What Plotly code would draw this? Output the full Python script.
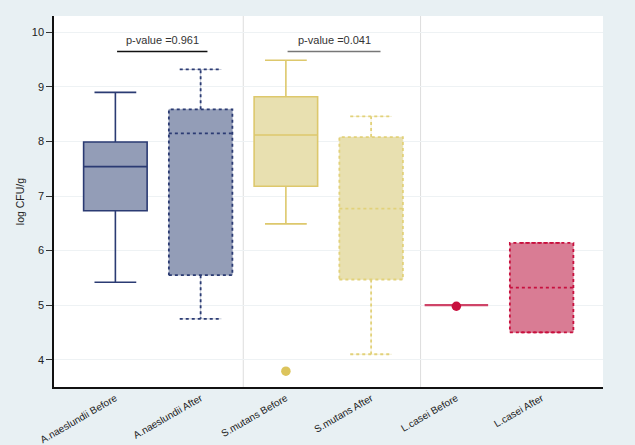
import plotly.graph_objects as go

categories = ["A.naeslundii Before", "A.naeslundii After", "S.mutans Before",
              "S.mutans After", "L.casei Before", "L.casei After"]
lower = [5.42, 4.75, 6.49, 4.10, 5.00, 4.50]
q1 = [6.73, 5.55, 7.18, 5.47, 5.00, 4.50]
median = [7.54, 8.15, 8.12, 6.77, 5.00, 5.32]
q3 = [7.99, 8.59, 8.82, 8.08, 5.00, 6.14]
upper = [8.90, 9.32, 9.49, 8.46, 5.00, 6.14]
dotted = [False, True, False, True, False, True]
outliers = {2: [3.79], 4: [4.98]}

fills = ["#939db7", "#939db7", "#e8e0b0", "#e8e0b0", "#d97c94", "#d97c94"]
lines = ["#2b3b73", "#2b3b73", "#ddc86c", "#e2d17a", "#c8103e", "#c8103e"]
flat_line = "#cf4468"

pvals = ["p-value =0.961", "p-value =0.041"]
p_x0 = [0.02, 2.02]
p_x1 = [1.08, 3.11]
p_y = [9.65, 9.65]
p_colors = ["#111111", "#777777"]

BW = 0.745
CW = 0.49

fig = go.Figure()
for i, cat in enumerate(categories):
    flat = q1[i] == q3[i]
    fig.add_trace(go.Box(
        x=[i], q1=[q1[i]], median=[median[i]], q3=[q3[i]],
        lowerfence=[lower[i]], upperfence=[upper[i]],
        width=BW, whiskerwidth=CW / BW,
        fillcolor=fills[i],
        line=dict(color=(flat_line if flat else (fills[i] if dotted[i] else lines[i])),
                  width=(2.2 if flat else (0.5 if dotted[i] else 1.6))),
        boxpoints=False, showlegend=False, hoverinfo="skip",
    ))
    if dotted[i]:
        l, r = i - BW / 2, i + BW / 2
        cl, cr = i - CW / 2, i + CW / 2
        xs = [l, r, r, l, l, None, l, r, None, i, i, None, i, i, None, cl, cr, None, cl, cr]
        ys = [q1[i], q1[i], q3[i], q3[i], q1[i], None, median[i], median[i], None,
              q3[i], upper[i], None, q1[i], lower[i], None, upper[i], upper[i], None,
              lower[i], lower[i]]
        fig.add_trace(go.Scatter(x=xs, y=ys, mode="lines",
                                 line=dict(color=lines[i], width=1.8, dash="dot"),
                                 showlegend=False, hoverinfo="skip"))
for i, vals in outliers.items():
    fig.add_trace(go.Scatter(x=[i] * len(vals), y=vals, mode="markers",
                             marker=dict(color=lines[i] if i != 2 else "#dcc45c", size=9.5),
                             showlegend=False, hoverinfo="skip"))

for k, txt in enumerate(pvals):
    fig.add_trace(go.Scatter(x=[p_x0[k], p_x1[k]], y=[p_y[k], p_y[k]], mode="lines",
                             line=dict(color=p_colors[k], width=1.5),
                             showlegend=False, hoverinfo="skip"))
    fig.add_annotation(x=(p_x0[k] + p_x1[k]) / 2, y=p_y[k], text=txt, showarrow=False,
                       yanchor="bottom", yshift=3,
                       font=dict(family="Liberation Sans, Arial", size=11, color="#333333"))

for sx in [1.5, 3.58]:
    fig.add_shape(type="line", xref="x", yref="paper", x0=sx, x1=sx, y0=0, y1=1,
                  line=dict(color="#dddddd", width=1), layer="below")

fig.update_layout(
    width=635, height=445,
    margin=dict(l=54, r=32, t=16, b=58),
    paper_bgcolor="#e8f0f3", plot_bgcolor="#ffffff",
    font=dict(family="Liberation Sans, Arial", size=11, color="#222222"),
    xaxis=dict(range=[-0.72, 5.72], tickvals=list(range(6)), ticktext=categories,
               tickangle=-30, showgrid=False, zeroline=False, showline=True,
               linecolor="#111111", linewidth=1.5, ticks="", automargin=False,
               tickfont=dict(size=10, color="#222222")),
    yaxis=dict(range=[3.5, 10.3], tickvals=[4, 5, 6, 7, 8, 9, 10], showgrid=True,
               gridcolor="#eef2f4", gridwidth=1, zeroline=False, showline=True,
               linecolor="#111111", linewidth=1.5, ticks="outside", ticklen=6,
               tickcolor="#333333", automargin=False,
               title=dict(text="log CFU/g", font=dict(size=10.5), standoff=5),
               tickfont=dict(size=11, color="#222222")),
)

fig.write_html("out.html")
